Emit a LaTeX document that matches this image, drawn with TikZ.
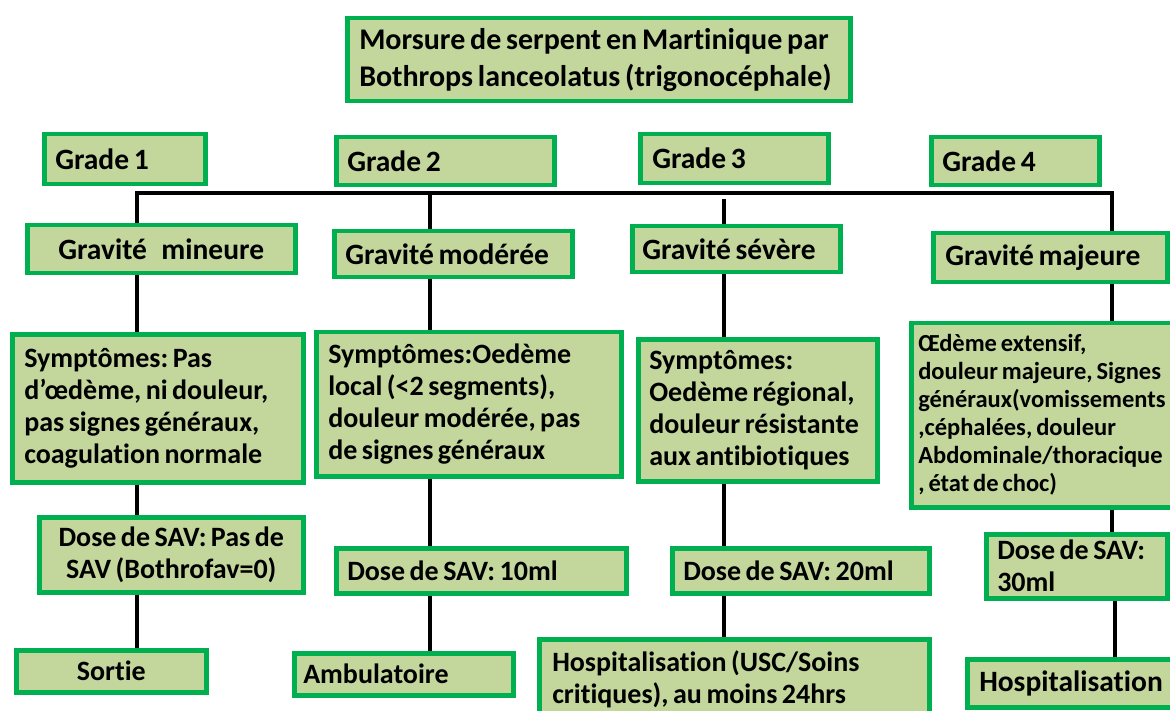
\documentclass[tikz,border=0pt]{standalone}
\usepackage{fontspec}
\setmainfont{Carlito}[Ligatures=NoCommon]
\frenchspacing
\definecolor{bord}{HTML}{00B050}
\definecolor{fond}{HTML}{C3D69B}

\begin{document}
\begin{tikzpicture}[x=1pt, y=-1pt,
    main/.style = {draw=bord, fill=fond, line width=4.5pt, anchor=north west,
        align=left, inner ysep=0pt, font=\bfseries\fontsize{28}{32}\selectfont,
        execute at begin node={\spaceskip=.16em\relax\hyphenpenalty=10000\relax}},
    grand/.style = {font=\bfseries\fontsize{29.5}{34}\selectfont},
    lien/.style = {line width=4pt, line join=miter}]
        \useasboundingbox (0,0) rectangle (1170,711);

        \node[main, minimum height=83pt, inner xsep=12pt, text width=479pt,
            font=\bfseries\fontsize{30}{37}\selectfont](titre) at (345,16)
            {Morsure de serpent en Martinique par\\Bothrops lanceolatus (trigonocéphale)};

        \node[main, grand, minimum height=50pt, inner xsep=11pt, text width=139pt](g1) at (42,132) {Grade 1};
        \node[main, grand, minimum height=48pt, inner xsep=11pt, text width=196pt](g2) at (334,135) {Grade 2};
        \node[main, grand, minimum height=49pt, inner xsep=12pt, text width=164pt](g3) at (638,132) {Grade 3};
        \node[main, grand, minimum height=48pt, inner xsep=11pt, text width=146pt](g4) at (929,135) {Grade 4};

        \node[main, grand, minimum height=48pt, inner xsep=10pt, text width=248pt, align=center,
            execute at begin node={}](gr1) at (25,223) {Gravité\ \ \,mineure};
        \node[main, grand, minimum height=46pt, inner xsep=11pt, text width=216pt](gr2) at (332,229) {Gravité modérée};
        \node[main, grand, minimum height=46pt, inner xsep=10pt, text width=188pt](gr3) at (630,224) {Gravité sévère};
        \node[main, grand, minimum height=49pt, inner xsep=12pt, text width=210pt](gr4) at (931,231) {Gravité majeure};

        \node[main, minimum height=148pt, inner xsep=12pt, text width=267pt](s1) at (10,332)
            {Symptômes: Pas\\d’œdème, ni douleur,\\pas signes généraux,\\coagulation normale};
        \node[main, minimum height=144pt, inner xsep=12pt, text width=281pt](s2) at (314,330)
            {Symptômes:Oedème\\local (<2 segments),\\douleur modérée, pas\\de signes généraux};
        \node[main, minimum height=142pt, inner xsep=11pt, text width=217pt](s3) at (636,337)
            {Symptômes:\\Oedème régional,\\douleur résistante\\aux antibiotiques};
        \node[main, minimum height=184pt, inner xsep=7pt, text width=250pt,
            font=\bfseries\fontsize{24.5}{28}\selectfont](s4) at (909,321)
            {Œdème extensif,\\douleur majeure, Signes\\généraux(vomissements\\,céphalées, douleur\\Abdominale/thoracique\\, état de choc)};

        \node[main, minimum height=75pt, inner xsep=8pt, text width=248pt, align=center](d1) at (37,515)
            {Dose de SAV: Pas de\\SAV (Bothrofav=0)};
        \node[main, minimum height=45pt, inner xsep=11pt, text width=268pt](d2) at (334,546) {Dose de SAV: 10ml};
        \node[main, minimum height=45pt, inner xsep=11pt, text width=235pt](d3) at (670,546) {Dose de SAV: 20ml};
        \node[main, minimum height=64pt, inner xsep=11pt, text width=159pt](d4) at (984,532) {Dose de SAV:\\30ml};

        \node[main, minimum height=42pt, inner xsep=10pt, text width=170pt, align=center](f1) at (14,648) {Sortie};
        \node[main, minimum height=42pt, inner xsep=9pt, text width=201pt](f2) at (292,651) {Ambulatoire};
        \node[main, minimum height=80pt, inner xsep=13pt, text width=364pt](f3) at (537,637)
            {Hospitalisation (USC/Soins\\critiques), au moins 24hrs};
        \node[main, grand, minimum height=48pt, inner xsep=12pt, text width=181pt](f4) at (965,657) {Hospitalisation};

        % barre des grades
        \coordinate (b1) at (137,193);
        \coordinate (b2) at (430,193);
        \coordinate (b3) at (724,199);
        \coordinate (b4) at (1112,193);

        \draw[lien] (b1 |- gr1.north) -- (b1) -- (b4) -- (b4 |- gr4.north);
        \draw[lien] (b2) -- (b2 |- gr2.north);
        \draw[lien] (b3) -- (b3 |- gr3.north);

        \draw[lien] (gr1.south -| b1) -- (s1.north -| b1);
        \draw[lien] (s1.south -| b1) -- (d1.north -| b1);
        \draw[lien] (d1.south -| b1) -- (f1.north -| b1);

        \draw[lien] (gr2.south -| b2) -- (s2.north -| b2);
        \draw[lien] (s2.south -| b2) -- (d2.north -| b2);
        \draw[lien] (d2.south -| b2) -- (f2.north -| b2);

        \draw[lien] (gr3.south -| b3) -- (s3.north -| b3);
        \draw[lien] (s3.south -| b3) -- (d3.north -| b3);
        \draw[lien] (d3.south -| b3) -- (f3.north -| b3);

        \draw[lien] (gr4.south -| b4) -- (s4.north -| b4);
        \draw[lien] (s4.south -| b4) -- (d4.north -| b4);
        \draw[lien] ([xshift=3pt]d4.south -| b4) -- ([xshift=3pt]f4.north -| b4);
    \end{tikzpicture}
\end{document}
